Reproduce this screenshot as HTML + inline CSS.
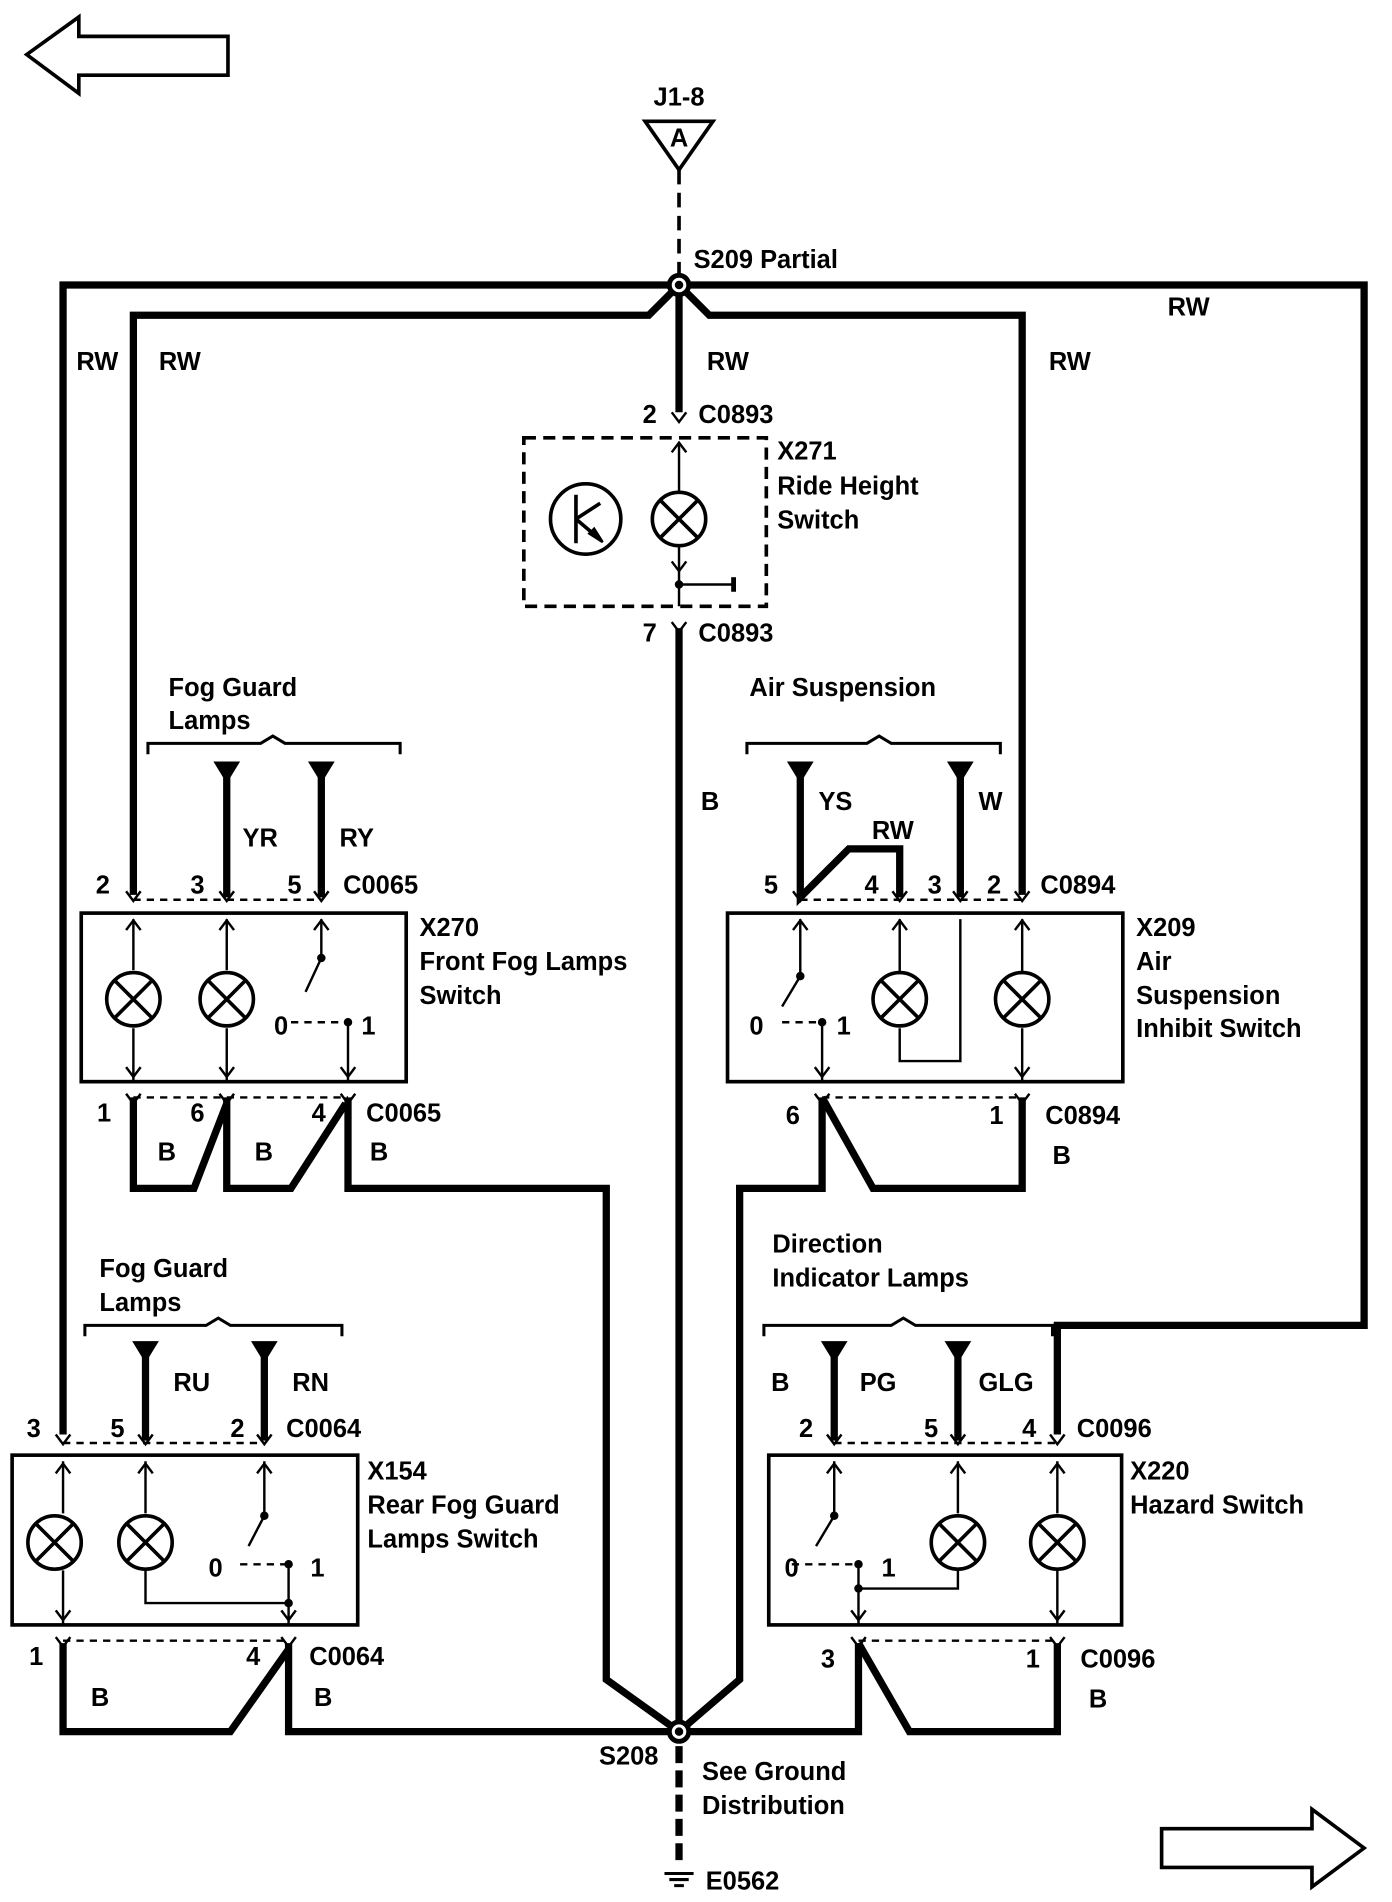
<!DOCTYPE html>
<html><head><meta charset="utf-8"><style>
html,body{margin:0;padding:0;background:#fff}
svg{display:block}
text{font-family:"Liberation Sans",Arial,sans-serif;font-weight:bold;font-size:21px;fill:#000}
</style></head><body>
<svg width="1392" height="1902" viewBox="0 0 1148 1568.5" preserveAspectRatio="none" xmlns="http://www.w3.org/2000/svg">
<defs>
<g id="lamp"><circle r="22" fill="#fff" stroke="#000" stroke-width="3"/><path d="M-15,-15L15,15M15,-15L-15,15" stroke="#000" stroke-width="3"/></g>
<path id="fin" d="M-6,-5L0,3L6,-5" fill="none" stroke="#000" stroke-width="2"/>
<path id="ftop" d="M-6,5L0,-3L6,5" fill="none" stroke="#000" stroke-width="2"/>
<path id="tri" d="M-11,0L11,0L0,18Z" fill="#000"/>
</defs>
<g fill="none" stroke="#000">
<polygon points="22,45 65,14 65,30 188,30 188,62 65,62 65,77" stroke-width="3" fill="#fff"/>
<polygon points="1125,1524 1082,1492 1082,1508 958,1508 958,1540 1082,1540 1082,1556" stroke-width="3" fill="#fff"/>
<polygon points="532,100 588,100 560,140" stroke-width="3"/>
<path d="M560,140V230" stroke-width="3" stroke-dasharray="12,7"/>
<g stroke-width="6" stroke-linejoin="miter">
<path d="M52,1183V235H1125V1093H872V1183"/>
<path d="M110,738V260H535L560,235L585,260H843V738"/>
<path d="M560,235V340"/>
<path d="M560,518V1428"/>
<path d="M110,905V980H160L187,910"/>
<path d="M187,905V980H240L285,910"/>
<path d="M287,905V980H500V1385L560,1428"/>
<path d="M678,905L720,980H843V905"/>
<path d="M678,905V980H610V1385L560,1428"/>
<path d="M52,1355V1428H190L238,1360"/>
<path d="M238,1355V1428H560"/>
<path d="M708,1355L750,1428H872V1355"/>
<path d="M708,1355V1428H560"/>
<path d="M187,640V740M265,640V740"/>
<path d="M660,640V740L700,700H742V740M792,640V740"/>
<path d="M120,1118V1188M218,1118V1188"/>
<path d="M688,1118V1188M790,1118V1188"/>
</g>
<path d="M560,1440V1540" stroke-width="6" stroke-dasharray="14,6"/>
<path d="M548,1545H572M552,1550H568M556,1555H564" stroke-width="2.5"/>
<circle cx="560" cy="235" r="8" fill="#fff" stroke-width="4"/><circle cx="560" cy="235" r="3" fill="#000"/>
<circle cx="560" cy="1428" r="8" fill="#fff" stroke-width="4"/><circle cx="560" cy="1428" r="3" fill="#000"/>
<path d="M122,622V613H215L225,607L235,613H330V622" stroke-width="2.5"/>
<path d="M616,622V613H715L725,607L735,613H825V622" stroke-width="2.5"/>
<path d="M70,1102V1093H170L180,1087L190,1093H282V1102" stroke-width="2.5"/>
<path d="M630,1102V1093H735L745,1087L755,1093H868V1102" stroke-width="2.5"/>
<rect x="432" y="361" width="200" height="139" stroke-width="3" stroke-dasharray="10,6"/>
<circle cx="483" cy="428" r="29" stroke-width="3"/>
<path d="M475,408V448M475,428L495,415M475,428L495,445" stroke-width="3"/>
<path d="M486,440L497,447L490,436Z" fill="#000" stroke-width="2"/>
<path d="M560,365V408M560,450V500M560,482H605" stroke-width="2"/>
<path d="M605,476V488" stroke-width="4"/>
<circle cx="560" cy="482" r="3" fill="#000"/>
<rect x="67" y="753" width="268" height="139" stroke-width="3"/>
<rect x="600" y="753" width="326" height="139" stroke-width="3"/>
<rect x="10" y="1200" width="285" height="140" stroke-width="3"/>
<rect x="634" y="1200" width="291" height="140" stroke-width="3"/>
<g stroke-width="2" stroke-dasharray="6,5">
<path d="M110,742H265M110,905H287"/>
<path d="M660,742H843M678,905H843"/>
<path d="M52,1190H218M52,1353H238"/>
<path d="M688,1190H872M708,1353H872"/>
<path d="M240,843H285M645,843H678M198,1290H238M653,1290H708"/>
</g>
<g stroke-width="2">
<path d="M110,758V800M110,848V892M187,758V800M187,848V892M265,758V790M265,790L252,818M287,843V892"/>
<path d="M660,758V805M660,805L645,830M678,843V892M742,758V802M742,848V875H792V758M843,758V802M843,848V892"/>
<path d="M52,1205V1248M52,1295V1340M120,1205V1248M120,1295V1322H238V1340M218,1205V1250L205,1275M238,1290V1322"/>
<path d="M688,1205V1250L673,1275M708,1290V1340M790,1205V1248M872,1205V1248M872,1295V1340M790,1295V1310H708"/>
</g>
<g fill="#000" stroke="none">
<circle cx="265" cy="790" r="3.5"/><circle cx="287" cy="843" r="3.5"/><circle cx="660" cy="805" r="3.5"/><circle cx="678" cy="843" r="3.5"/>
<circle cx="218" cy="1250" r="3.5"/><circle cx="238" cy="1290" r="3.5"/><circle cx="688" cy="1250" r="3.5"/><circle cx="708" cy="1290" r="3.5"/>
<circle cx="238" cy="1322" r="3.5"/><circle cx="708" cy="1310" r="3.5"/>
</g>
</g>
<use href="#lamp" x="560" y="428"/>
<use href="#lamp" x="110" y="824"/><use href="#lamp" x="187" y="824"/>
<use href="#lamp" x="742" y="824"/><use href="#lamp" x="843" y="824"/>
<use href="#lamp" x="45" y="1272"/><use href="#lamp" x="120" y="1272"/>
<use href="#lamp" x="790" y="1272"/><use href="#lamp" x="872" y="1272"/>
<g>
<use href="#fin" x="560" y="345"/><use href="#fin" x="560" y="518"/>
<use href="#ftop" x="560" y="368"/><use href="#fin" x="560" y="468"/>
<use href="#fin" x="110" y="740"/><use href="#fin" x="187" y="740"/><use href="#fin" x="265" y="740"/>
<use href="#ftop" x="110" y="762"/><use href="#ftop" x="187" y="762"/><use href="#ftop" x="265" y="762"/>
<use href="#fin" x="110" y="885"/><use href="#fin" x="187" y="885"/><use href="#fin" x="287" y="885"/>
<use href="#fin" x="110" y="907"/><use href="#fin" x="187" y="907"/><use href="#fin" x="287" y="907"/>
<use href="#fin" x="660" y="740"/><use href="#fin" x="742" y="740"/><use href="#fin" x="792" y="740"/><use href="#fin" x="843" y="740"/>
<use href="#ftop" x="660" y="762"/><use href="#ftop" x="742" y="762"/><use href="#ftop" x="843" y="762"/>
<use href="#fin" x="678" y="885"/><use href="#fin" x="843" y="885"/><use href="#fin" x="678" y="907"/><use href="#fin" x="843" y="907"/>
<use href="#fin" x="52" y="1188"/><use href="#fin" x="120" y="1188"/><use href="#fin" x="218" y="1188"/>
<use href="#ftop" x="52" y="1210"/><use href="#ftop" x="120" y="1210"/><use href="#ftop" x="218" y="1210"/>
<use href="#fin" x="52" y="1333"/><use href="#fin" x="238" y="1333"/><use href="#fin" x="52" y="1355"/><use href="#fin" x="238" y="1355"/>
<use href="#fin" x="688" y="1188"/><use href="#fin" x="790" y="1188"/><use href="#fin" x="872" y="1188"/>
<use href="#ftop" x="688" y="1210"/><use href="#ftop" x="790" y="1210"/><use href="#ftop" x="872" y="1210"/>
<use href="#fin" x="708" y="1333"/><use href="#fin" x="872" y="1333"/><use href="#fin" x="708" y="1355"/><use href="#fin" x="872" y="1355"/>
</g>
<use href="#tri" x="187" y="628"/><use href="#tri" x="265" y="628"/>
<use href="#tri" x="660" y="628"/><use href="#tri" x="792" y="628"/>
<use href="#tri" x="120" y="1106"/><use href="#tri" x="218" y="1106"/>
<use href="#tri" x="688" y="1106"/><use href="#tri" x="790" y="1106"/>
<text x="560" y="87" text-anchor="middle">J1-8</text>
<text x="560" y="121" text-anchor="middle" font-size="15">A</text>
<text x="572" y="221">S209  Partial</text>
<text x="963" y="260">RW</text>
<text x="63" y="305">RW</text><text x="131" y="305">RW</text><text x="583" y="305">RW</text><text x="865" y="305">RW</text>
<text x="530" y="349">2</text><text x="576" y="349">C0893</text>
<text x="641" y="379">X271</text><text x="641" y="408">Ride Height</text><text x="641" y="436">Switch</text>
<text x="530" y="529">7</text><text x="576" y="529">C0893</text>
<text x="139" y="574">Fog Guard</text><text x="139" y="601">Lamps</text>
<text x="618" y="574">Air Suspension</text>
<text x="200" y="698">YR</text><text x="280" y="698">RY</text>
<text x="578" y="668">B</text><text x="675" y="668">YS</text><text x="719" y="692">RW</text><text x="807" y="668">W</text>
<text x="79" y="737">2</text><text x="157" y="737">3</text><text x="237" y="737">5</text><text x="283" y="737">C0065</text>
<text x="630" y="737">5</text><text x="713" y="737">4</text><text x="765" y="737">3</text><text x="814" y="737">2</text><text x="858" y="737">C0894</text>
<text x="346" y="772">X270</text><text x="346" y="800">Front Fog Lamps</text><text x="346" y="828">Switch</text>
<text x="937" y="772">X209</text><text x="937" y="800">Air</text><text x="937" y="828">Suspension</text><text x="937" y="855">Inhibit Switch</text>
<text x="226" y="853">0</text><text x="298" y="853">1</text>
<text x="618" y="853">0</text><text x="690" y="853">1</text>
<text x="80" y="925">1</text><text x="157" y="925">6</text><text x="257" y="925">4</text><text x="302" y="925">C0065</text>
<text x="648" y="927">6</text><text x="816" y="927">1</text><text x="862" y="927">C0894</text>
<text x="130" y="957">B</text><text x="210" y="957">B</text><text x="305" y="957">B</text><text x="868" y="960">B</text>
<text x="637" y="1033">Direction</text><text x="637" y="1061">Indicator Lamps</text>
<text x="82" y="1053">Fog Guard</text><text x="82" y="1081">Lamps</text>
<text x="143" y="1147">RU</text><text x="241" y="1147">RN</text>
<text x="636" y="1147">B</text><text x="709" y="1147">PG</text><text x="807" y="1147">GLG</text>
<text x="22" y="1185">3</text><text x="91" y="1185">5</text><text x="190" y="1185">2</text><text x="236" y="1185">C0064</text>
<text x="659" y="1185">2</text><text x="762" y="1185">5</text><text x="843" y="1185">4</text><text x="888" y="1185">C0096</text>
<text x="303" y="1220">X154</text><text x="303" y="1248">Rear Fog Guard</text><text x="303" y="1276">Lamps Switch</text>
<text x="932" y="1220">X220</text><text x="932" y="1248">Hazard Switch</text>
<text x="172" y="1300">0</text><text x="256" y="1300">1</text><text x="647" y="1300">0</text><text x="727" y="1300">1</text>
<text x="24" y="1373">1</text><text x="203" y="1373">4</text><text x="255" y="1373">C0064</text>
<text x="677" y="1375">3</text><text x="846" y="1375">1</text><text x="891" y="1375">C0096</text>
<text x="75" y="1407">B</text><text x="259" y="1407">B</text><text x="898" y="1408">B</text>
<text x="494" y="1455">S208</text>
<text x="579" y="1468">See Ground</text><text x="579" y="1496">Distribution</text>
<text x="582" y="1558">E0562</text>
</svg>
</body></html>
